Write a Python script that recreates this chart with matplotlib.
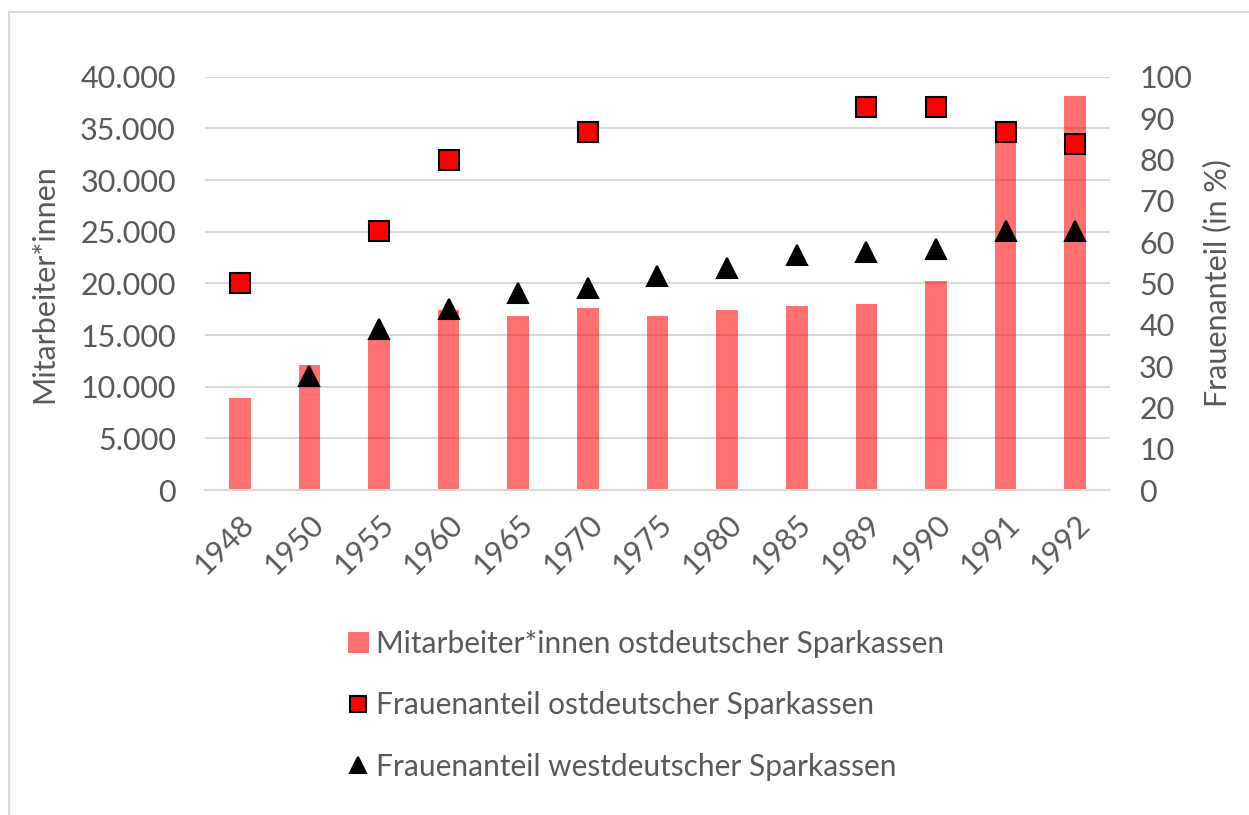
import numpy as np
import matplotlib.pyplot as plt
from matplotlib.patches import Rectangle
from matplotlib.ticker import FuncFormatter

# Daten
years = ['1948', '1950', '1955', '1960', '1965', '1970', '1975',
         '1980', '1985', '1989', '1990', '1991', '1992']
staff_east = [8900, 12100, 14700, 17400, 16800, 17600, 16850,
              17400, 17800, 18000, 20200, 35000, 38100]
women_east = [50, np.nan, 62.7, 79.8, np.nan, 86.7, np.nan,
              np.nan, np.nan, 92.7, 92.7, 86.7, 83.7]
women_west = [np.nan, 27.6, 38.9, 43.9, 47.7, 48.8, 51.8,
              53.8, 56.9, 57.7, 58.4, 62.7, 62.7]

label_bar = 'Mitarbeiter*innen ostdeutscher Sparkassen'
label_east = 'Frauenanteil ostdeutscher Sparkassen'
label_west = 'Frauenanteil westdeutscher Sparkassen'

txt = '#595959'
grid = '#D9D9D9'
plt.rcParams['font.family'] = ['Lato', 'DejaVu Sans']

W, H = 1249, 815
fig = plt.figure(figsize=(W / 100, H / 100), dpi=100)
ax = fig.add_axes([205 / W, 1 - 490 / H, (1110 - 205) / W, (490 - 76.7) / H])
ax2 = ax.twinx()

# Rahmen des Diagramms
fig.patches.append(Rectangle((8.5 / W, -0.1), 1.2, 1 - 12 / H + 0.1,
                             transform=fig.transFigure, fill=False,
                             edgecolor=grid, linewidth=1.5))

x = np.arange(len(years))
ax.bar(x, staff_east, width=0.31, color='red', alpha=0.56, zorder=2,
       label=label_bar)
ax.set_xlim(-0.5, len(years) - 0.5)
ax.set_ylim(0, 40000)
ax.set_yticks(np.arange(0, 40001, 5000))
ax.yaxis.set_major_formatter(FuncFormatter(lambda v, p: f"{int(v):,}".replace(',', '.')))
ax.grid(axis='y', color=grid, linewidth=1.5, zorder=0)
ax.set_axisbelow(True)

ax2.plot(x, women_east, linestyle='none', marker='s', markersize=15,
         markerfacecolor='red', markeredgecolor='black', markeredgewidth=1.5,
         label=label_east, zorder=3)
ax2.plot(x, women_west, linestyle='none', marker='^', markersize=15,
         markerfacecolor='black', markeredgecolor='black', markeredgewidth=1.5,
         label=label_west, zorder=3)
ax2.set_ylim(0, 100)
ax2.set_yticks(np.arange(0, 101, 10))

for a in (ax, ax2):
    for s in a.spines.values():
        s.set_visible(False)
    a.tick_params(length=0, colors=txt, labelsize=22)
ax.spines['bottom'].set_visible(True)
ax.spines['bottom'].set_color(grid)
ax.spines['bottom'].set_linewidth(1.5)

ax.set_xticks(x)
ax.set_xticklabels(years, rotation=45, ha='right', rotation_mode='anchor')
ax.tick_params(axis='x', pad=14, labelsize=22)
ax.tick_params(axis='y', pad=21)
ax2.tick_params(axis='y', pad=21)

ax.set_ylabel('Mitarbeiter*innen', color=txt, fontsize=22, labelpad=16)
ax2.set_ylabel('Frauenanteil (in %)', color=txt, fontsize=22, labelpad=8)

h1, l1 = ax.get_legend_handles_labels()
h2, l2 = ax2.get_legend_handles_labels()
fig.legend(h1 + h2, l1 + l2, loc='upper left',
           bbox_to_anchor=(321 / W, 1 - 603 / H), frameon=False,
           fontsize=21.5, labelcolor=txt, labelspacing=1.12,
           handlelength=0.7, handletextpad=0.25, markerscale=0.75)

fig.savefig('out.png', dpi=100, facecolor='white')
